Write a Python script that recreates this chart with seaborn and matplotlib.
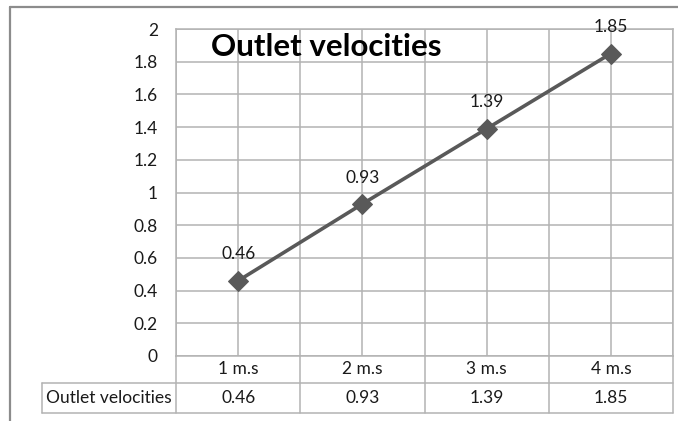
import numpy as np
import pandas as pd
import matplotlib
matplotlib.use("Agg")
import matplotlib.pyplot as plt
import seaborn as sns
from matplotlib.lines import Line2D
from matplotlib import transforms

# Chart data
categories = ["1 m.s", "2 m.s", "3 m.s", "4 m.s"]
velocities = [0.46, 0.93, 1.39, 1.85]
series_name = "Outlet velocities"
chart_title = "Outlet velocities"
y_ticks = [0, 0.2, 0.4, 0.6, 0.8, 1.0, 1.2, 1.4, 1.6, 1.8, 2.0]
y_tick_labels = ["0", "0.2", "0.4", "0.6", "0.8", "1", "1.2", "1.4", "1.6", "1.8", "2"]

sns.set_style("white")
plt.rcParams["font.family"] = ["Lato", "DejaVu Sans"]

W, H = 678, 421
fig = plt.figure(figsize=(W / 100, H / 100), dpi=100)


def fx(px):
    return px / W


def fy(py):
    return 1 - py / H


GRID = "#b3b3b3"
TEXT = "#1a1a1a"
LINE = "#595959"
FS = 12.5

ax = fig.add_axes([fx(176), fy(356), fx(673) - fx(176), fy(29) - fy(356)])

df = pd.DataFrame({"pos": np.arange(len(categories)), "value": velocities})
sns.lineplot(data=df, x="pos", y="value", ax=ax, color=LINE, lw=2.6,
             marker="D", markersize=10.5, markeredgecolor=LINE, zorder=3)

ax.set_xlim(-0.5, len(categories) - 0.5)
ax.set_ylim(0, 2)
ax.set_yticks(y_ticks)
ax.set_yticklabels(y_tick_labels)
ax.set_xticks(np.arange(len(categories)))
ax.set_xticks(np.arange(-0.5, len(categories)), minor=True)
ax.set_xticklabels([])
ax.set_xlabel("")
ax.set_ylabel("")
ax.grid(True, which="both", axis="x", color=GRID, lw=1.1)
ax.grid(True, which="major", axis="y", color=GRID, lw=1.1)
ax.tick_params(axis="both", which="both", length=0)
ax.tick_params(axis="y", pad=13, labelsize=FS, labelcolor=TEXT)
for s in ax.spines.values():
    s.set_color(GRID)
    s.set_linewidth(1.1)

# Value labels above each point
for i, v in enumerate(velocities):
    ax.annotate(f"{v:.2f}", (i, v), xytext=(0, 19), textcoords="offset points",
                ha="center", va="center", fontsize=FS, color=TEXT)

# Title drawn inside the plot area
fig.text(fx(326), fy(47), chart_title, ha="center", va="center",
         fontsize=22.5, fontweight="bold", color="black")

# Data table under the plot
bt = transforms.blended_transform_factory(ax.transData, fig.transFigure)
for yy in (383, 413):
    fig.add_artist(Line2D([fx(42), fx(673)], [fy(yy), fy(yy)], color=GRID, lw=1.1))
fig.add_artist(Line2D([fx(42), fx(42)], [fy(383), fy(413)], color=GRID, lw=1.1))
for b in np.arange(-0.5, len(categories)):
    fig.add_artist(Line2D([b, b], [fy(356), fy(413)], color=GRID, lw=1.1, transform=bt))
for i, (c, v) in enumerate(zip(categories, velocities)):
    fig.text(i, fy(369), c, transform=bt, ha="center", va="center", fontsize=FS, color=TEXT)
    fig.text(i, fy(398), f"{v:.2f}", transform=bt, ha="center", va="center", fontsize=FS, color=TEXT)
fig.text(fx(109), fy(398), series_name, ha="center", va="center", fontsize=FS, color=TEXT)

# Chart frame
FRAME = "#8c8c8c"
fig.add_artist(Line2D([fx(9.5), fx(678)], [fy(7), fy(7)], color=FRAME, lw=1.6))
fig.add_artist(Line2D([fx(9.5), fx(9.5)], [fy(7), fy(421)], color=FRAME, lw=1.6))

fig.savefig("out.png", dpi=100)
